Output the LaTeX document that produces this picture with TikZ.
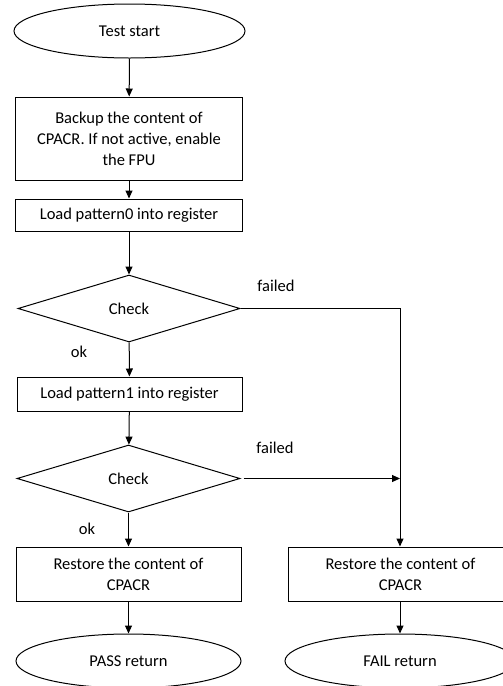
\documentclass[tikz,border=0pt]{standalone}
\usepackage{fontspec}
\setmainfont{Carlito}
\usetikzlibrary{shapes.geometric,arrows.meta}
\begin{document}
\begin{tikzpicture}[x=1pt,y=-1pt,
  every node/.style={font=\fontsize{16.5}{21}\selectfont, inner sep=0pt},
  box/.style={draw, line width=1pt, rectangle, align=center},
  term/.style={draw, line width=1pt, ellipse},
  dec/.style={draw, line width=1pt, diamond, aspect=3.3},
  arr/.style={line width=1pt, -{Triangle[width=7pt,length=8pt]}},
  lab/.style={anchor=center}]
\useasboundingbox (0,0) rectangle (503,686);
\clip (0,0) rectangle (503,686);
\node[term, minimum width=231, minimum height=54] (start) at (129.5,31) {Test start};
\node[box, minimum width=227, minimum height=83] (b1) at (129,138.5) {Backup the content of\\CPACR. If not active, enable\\the FPU};
\node[box, minimum width=227, minimum height=32] (b2) at (129,215) {Load pattern0 into register};
\node[dec, minimum width=222, minimum height=67] (d1) at (129,308.5) {Check};
\node[box, minimum width=225, minimum height=34] (b3) at (129.5,394) {Load pattern1 into register};
\node[dec, minimum width=223, minimum height=67] (d2) at (128.5,478.5) {Check};
\node[box, minimum width=225, minimum height=54] (b4) at (128.5,574) {Restore the content of\\CPACR};
\node[box, minimum width=225, minimum height=54] (b5) at (400.5,574) {Restore the content of\\CPACR};
\node[term, minimum width=225, minimum height=54] (pass) at (128.5,661) {PASS return};
\node[term, minimum width=230, minimum height=54] (fail) at (400,661) {FAIL return};
\node[lab] (f1) at (276,286) {failed};
\node[lab] (f2) at (275,448) {failed};
\node[lab] (ok1) at (79,352) {ok};
\node[lab] (ok2) at (87,529) {ok};
\coordinate (j1) at (400,308.5);
\coordinate (j2) at (400,478.5);
\draw[arr] (start) -- (b1);
\draw[arr] (b1) -- (b2);
\draw[arr] (b2) -- (d1);
\draw[arr] (d1) -- (b3);
\draw[arr] (b3) -- (d2);
\draw[arr] (d2) -- (b4);
\draw[arr] (b4) -- (pass);
\draw[arr] (b5.south -| j1) -- (fail.north -| j1);
\draw[arr] (d1.east) -- (j1) -- (b5.north -| j1);
\draw[arr] ([xshift=3pt]d2.east) -- (j2);
\end{tikzpicture}
\end{document}
